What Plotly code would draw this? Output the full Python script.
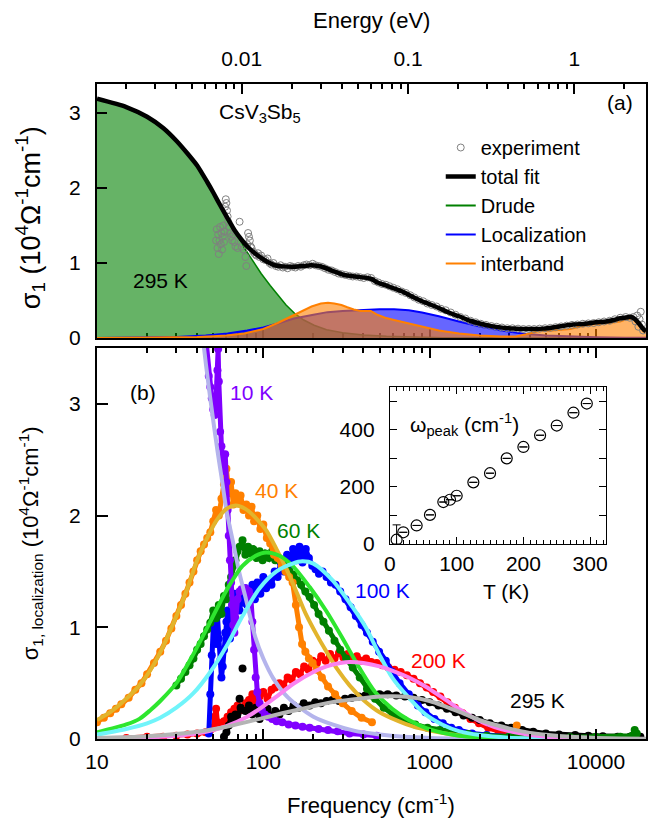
import plotly.graph_objects as go

# ---------------- panel (a): CsV3Sb5, 295 K  (x: cm^-1, y: 10^4 Ohm^-1 cm^-1) -------------
freq_exp_a = [52, 52.5, 53, 53.5, 54, 54.5, 55, 55.5, 56, 56.5, 57, 57.5, 58, 58.5, 59, 59.5, 60, 60.5,
              61, 61.5, 62, 63, 64, 65, 66, 67, 68, 70, 72, 74, 76, 78, 79, 80, 81, 82, 83, 84, 85, 87,
              89, 91, 93, 95, 97, 100, 103, 106, 109, 112, 115, 119, 123, 127, 131, 135, 140, 145, 150,
              156, 162, 168, 175, 182, 190, 198, 206, 215, 225, 235, 246, 258, 270, 283, 297, 312, 328,
              345, 363, 382, 402, 423, 445, 468, 492, 518, 545, 575, 605, 640, 680, 720, 765, 810, 860,
              915, 970, 1030, 1100, 1170, 1250, 1340, 1430, 1530, 1640, 1760, 1890, 2030, 2180, 2350,
              2530, 2720, 2930, 3150, 3400, 3660, 3950, 4250, 4580, 4940, 5320, 5730, 6180, 6660, 7180,
              7740, 8340, 8990, 9690, 10400, 11200, 12100, 13000, 14000, 15100, 16000, 16800, 17300,
              17700, 18000, 18300, 18600, 18900, 19200]
sig_exp_a = [1.30, 1.45, 1.20, 1.38, 1.12, 1.30, 1.48, 1.25, 1.40, 1.18, 1.35, 1.50, 1.28, 1.42, 1.75,
             1.85, 1.80, 1.70, 1.62, 1.55, 1.48, 1.40, 1.35, 1.30, 1.38, 1.28, 1.22, 1.20, 1.55, 1.22,
             1.18, 1.08, 0.96, 1.25, 1.40, 1.35, 1.30, 1.22, 1.20, 1.15, 1.12, 1.10, 1.13, 1.08, 1.10,
             1.05, 1.04, 1.06, 1.00, 0.98, 1.00, 0.96, 0.95, 0.97, 0.94, 0.95, 0.93, 0.96, 0.95, 0.94,
             0.96, 0.95, 0.97, 0.98, 0.97, 0.99, 0.97, 0.96, 0.95, 0.93, 0.91, 0.90, 0.88, 0.86, 0.85,
             0.84, 0.83, 0.82, 0.82, 0.81, 0.80, 0.81, 0.80, 0.76, 0.74, 0.72, 0.71, 0.69, 0.67, 0.65,
             0.62, 0.60, 0.57, 0.54, 0.51, 0.49, 0.46, 0.44, 0.42, 0.39, 0.37, 0.34, 0.31, 0.28, 0.26,
             0.23, 0.21, 0.19, 0.175, 0.16, 0.15, 0.14, 0.13, 0.13, 0.125, 0.12, 0.12, 0.12, 0.125,
             0.13, 0.135, 0.145, 0.155, 0.165, 0.175, 0.18, 0.19, 0.195, 0.20, 0.21, 0.22, 0.23, 0.25,
             0.27, 0.28, 0.27, 0.28, 0.22, 0.30, 0.15, 0.25, 0.35, 0.18, 0.10]

freq_total_a = [10, 15, 20, 25, 30, 35, 40, 46, 50, 56, 62, 67, 74, 81, 90, 97, 107, 117, 130, 154, 175,
                193, 215, 232, 265, 306, 360, 423, 450, 485, 550, 611, 700, 805, 900, 1000, 1136, 1300,
                1500, 1750, 2027, 2400, 2800, 3300, 3617, 4200, 4830, 5500, 6300, 7300, 8626, 10000,
                11500, 12800, 13740, 14800, 15800, 16330, 17000, 17700, 18500, 19450, 20000]
sig_total_a = [3.19, 3.08, 2.95, 2.80, 2.63, 2.46, 2.30, 2.08, 1.94, 1.74, 1.57, 1.44, 1.31, 1.21, 1.12,
               1.07, 1.01, 0.97, 0.955, 0.95, 0.96, 0.97, 0.96, 0.94, 0.89, 0.84, 0.82, 0.80, 0.785,
               0.74, 0.70, 0.66, 0.61, 0.54, 0.49, 0.45, 0.40, 0.34, 0.29, 0.23, 0.19, 0.155, 0.135,
               0.125, 0.12, 0.12, 0.125, 0.14, 0.16, 0.18, 0.19, 0.21, 0.22, 0.24, 0.26, 0.27, 0.28,
               0.28, 0.26, 0.22, 0.17, 0.11, 0.09]

freq_drude_a = [10, 12, 15, 20, 25, 30, 35, 40, 46, 52, 61, 70, 77, 87, 97, 110, 122, 137, 154, 175, 202,
                240, 300, 400, 550, 800, 1200, 2000, 5000, 20000]
sig_drude_a = [3.18, 3.14, 3.07, 2.94, 2.79, 2.62, 2.45, 2.28, 2.06, 1.86, 1.60, 1.38, 1.20, 1.02, 0.86,
               0.70, 0.57, 0.44, 0.33, 0.24, 0.17, 0.11, 0.07, 0.04, 0.022, 0.011, 0.005, 0.002, 0.0005,
               0.0]

freq_loc_a = [10, 20, 30, 45, 61, 80, 100, 125, 153, 200, 243, 300, 385, 500, 611, 750, 900, 1136, 1500,
              2027, 2700, 3600, 5000, 7000, 10000, 15000, 20000]
sig_loc_a = [0.0, 0.005, 0.015, 0.035, 0.06, 0.10, 0.14, 0.20, 0.26, 0.31, 0.345, 0.36, 0.375, 0.385,
             0.385, 0.37, 0.34, 0.29, 0.22, 0.15, 0.10, 0.06, 0.035, 0.02, 0.01, 0.004, 0.002]

freq_inter_a = [10, 20, 30, 40, 50, 60, 77, 100, 122, 145, 168, 195, 222, 245, 267, 295, 320, 350, 385,
                420, 443, 485, 540, 611, 700, 805, 950, 1136, 1500, 2000, 2700, 3300, 3800, 4500, 5500,
                7000, 8600, 10000, 12000, 14000, 15500, 16500, 17500, 18500, 19500, 20000]
sig_inter_a = [0.0, 0.003, 0.008, 0.015, 0.025, 0.035, 0.06, 0.12, 0.20, 0.28, 0.35, 0.42, 0.46, 0.47,
               0.46, 0.44, 0.41, 0.38, 0.36, 0.365, 0.36, 0.31, 0.27, 0.24, 0.21, 0.18, 0.14, 0.10,
               0.06, 0.035, 0.02, 0.02, 0.05, 0.09, 0.10, 0.12, 0.17, 0.19, 0.20, 0.22, 0.26, 0.26,
               0.22, 0.16, 0.10, 0.08]

# top energy axis
CM_PER_EV = 8065.54
energy_major = [0.01, 0.1, 1]
energy_major_text = ["0.01", "0.1", "1"]
energy_minor = [0.002, 0.003, 0.004, 0.005, 0.006, 0.007, 0.008, 0.009,
                0.02, 0.03, 0.04, 0.05, 0.06, 0.07, 0.08, 0.09,
                0.2, 0.3, 0.4, 0.5, 0.6, 0.7, 0.8, 0.9, 2]

# ---------------- panel (b): sigma_1, localization at several temperatures -------------
f10 = [45, 47, 48, 49, 50, 51, 52, 53, 53.5, 54, 55, 56, 57, 58, 59, 60, 61, 62, 63, 64, 65, 66, 67, 68,
       70, 72, 74, 76, 78, 80, 82, 84, 86, 88, 90, 92, 95, 98, 102, 107, 113, 120, 130, 142, 156, 172,
       190, 215, 245, 280, 330, 400, 480]
s10 = [3.6, 3.25, 3.15, 3.05, 2.95, 2.9, 3.05, 3.3, 3.49, 3.2, 2.75, 2.62, 2.5, 2.4, 2.55, 2.3, 2.05,
       1.82, 1.6, 1.4, 1.2, 1.02, 0.95, 1.08, 1.25, 1.32, 1.34, 1.33, 1.35, 1.3, 1.32, 1.28, 1.05, 0.8,
       0.55, 0.42, 0.32, 0.26, 0.22, 0.2, 0.18, 0.16, 0.15, 0.13, 0.12, 0.11, 0.1, 0.09, 0.08, 0.07,
       0.05, 0.04, 0.03]
f10_fit = [40, 44, 47, 50, 53, 56, 60, 66, 72, 79, 90, 100, 115, 135, 160, 200, 260, 350, 500, 700, 1000,
           2000]
s10_fit = [4.1, 3.5, 3.15, 2.85, 2.58, 2.35, 2.05, 1.75, 1.48, 1.24, 0.9, 0.72, 0.54, 0.40, 0.30, 0.20,
           0.13, 0.075, 0.04, 0.02, 0.01, 0.003]

f40 = [10, 11, 12, 13, 14, 15.5, 17, 18.5, 20, 22, 24, 26, 28, 30, 32, 34, 36, 38, 40, 42, 44, 46, 48, 50,
       52, 54, 56, 58, 60, 62, 64, 66, 68, 70, 73, 76, 79, 82, 85, 88, 92, 96, 100, 105, 110, 116, 122,
       129, 136, 143, 150, 157, 164, 171, 179, 188, 198, 210, 225, 245, 270, 300, 340, 390, 450]
s40 = [0.15, 0.19, 0.23, 0.27, 0.31, 0.37, 0.44, 0.5, 0.58, 0.68, 0.78, 0.88, 0.99, 1.1, 1.2, 1.3, 1.4,
       1.5, 1.6, 1.68, 1.74, 1.8, 1.85, 1.95, 2.05, 2.0, 2.15, 2.28, 2.42, 2.2, 2.3, 2.1, 2.2, 2.12, 2.18,
       2.05, 2.1, 2.0, 2.08, 1.95, 2.0, 1.88, 1.92, 1.8, 1.75, 1.65, 1.62, 1.55, 1.5, 1.45, 1.4, 1.2, 1.0,
       0.85, 0.78, 0.72, 0.68, 0.62, 0.55, 0.47, 0.4, 0.32, 0.25, 0.19, 0.15]
f40_stray = [3340]
s40_stray = [0.12]
f40_fit = [10, 12, 15, 18, 21, 25, 30, 35, 40, 46, 52, 60, 68, 78, 90, 104, 120, 140, 160, 180, 210, 238,
           280, 330, 400, 500, 650, 800, 1000, 1300, 1700, 2300, 3000, 5000]
s40_fit = [0.17, 0.24, 0.36, 0.48, 0.62, 0.83, 1.1, 1.35, 1.6, 1.8, 1.95, 2.06, 2.09, 2.06, 1.98, 1.87,
           1.7, 1.5, 1.3, 1.12, 0.93, 0.79, 0.62, 0.48, 0.35, 0.24, 0.16, 0.11, 0.075, 0.045, 0.025,
           0.012, 0.006, 0.002]

f60 = [30, 32, 34, 36, 38, 40, 42, 44, 46, 48, 50, 52, 54, 56, 58, 60, 62, 64, 66, 68, 70, 72, 75, 78, 81,
       84, 87, 91, 95, 99, 103, 108, 113, 118, 124, 130, 137, 144, 152, 160, 169, 179, 190, 202, 215, 230,
       248, 268, 290, 315, 345, 380, 420, 470, 530, 600, 700, 820, 970, 1150, 1400, 1700, 2200, 3000,
       4500, 7000, 10000, 14000, 16500, 17100, 17600]
s60 = [0.48, 0.54, 0.6, 0.66, 0.72, 0.8, 0.85, 0.92, 0.98, 1.04, 1.15, 1.08, 1.2, 1.12, 1.28, 1.25, 1.38,
       1.45, 1.55, 1.6, 1.68, 1.72, 1.78, 1.65, 1.72, 1.66, 1.7, 1.62, 1.68, 1.6, 1.66, 1.62, 1.68, 1.6,
       1.62, 1.56, 1.55, 1.5, 1.47, 1.42, 1.38, 1.32, 1.27, 1.2, 1.12, 1.05, 0.97, 0.88, 0.8, 0.72, 0.64,
       0.55, 0.45, 0.36, 0.28, 0.22, 0.17, 0.13, 0.1, 0.08, 0.06, 0.045, 0.03, 0.02, 0.015, 0.015, 0.02,
       0.02, 0.03, 0.08, 0.05]
f60_fit = [10, 12, 15, 18, 21, 24, 30, 38, 48, 60, 75, 90, 104, 125, 150, 190, 238, 300, 377, 470, 596,
           750, 944, 1200, 1500, 2000, 3000, 5000]
s60_fit = [0.06, 0.09, 0.13, 0.18, 0.26, 0.34, 0.5, 0.76, 1.05, 1.33, 1.55, 1.64, 1.67, 1.64, 1.55, 1.36,
           1.15, 0.9, 0.64, 0.42, 0.27, 0.17, 0.1, 0.055, 0.03, 0.015, 0.006, 0.002]

f100 = [47, 48, 49, 50, 51, 52, 53, 54, 55, 56, 57, 58, 59, 60, 61, 62, 63, 64, 65, 66, 67, 68, 70, 72, 74,
        76, 78, 80, 83, 86, 89, 92, 96, 100, 104, 108, 112, 117, 122, 127, 133, 139, 145, 151, 158, 165,
        172, 180, 188, 197, 206, 216, 227, 240, 255, 272, 290, 312, 335, 360, 390, 420, 455, 497, 545,
        596, 660, 750, 850, 944, 1070, 1200, 1350, 1500, 1800, 2200, 3000]
s100 = [0.05, 0.4, 0.75, 1.0, 1.12, 0.85, 1.1, 0.9, 0.7, 0.55, 0.65, 0.8, 0.95, 1.05, 1.15, 1.0, 0.9, 1.05,
        1.2, 1.0, 1.3, 1.2, 1.28, 1.15, 1.3, 1.22, 1.35, 1.2, 1.3, 1.38, 1.25, 1.4, 1.3, 1.45, 1.35, 1.42,
        1.38, 1.5, 1.45, 1.58, 1.5, 1.65, 1.55, 1.7, 1.6, 1.72, 1.58, 1.7, 1.62, 1.55, 1.52, 1.48, 1.5,
        1.45, 1.4, 1.38, 1.32, 1.25, 1.18, 1.1, 1.02, 0.95, 0.87, 0.78, 0.7, 0.6, 0.5, 0.4, 0.3, 0.24,
        0.18, 0.14, 0.1, 0.08, 0.05, 0.035, 0.02]
f100_fit = [10, 15, 20, 24, 30, 38, 48, 60, 75, 95, 120, 150, 172, 200, 261, 344, 413, 497, 596, 750, 944,
            1188, 1500, 2000, 3000, 5000]
s100_fit = [0.04, 0.09, 0.14, 0.19, 0.28, 0.41, 0.6, 0.83, 1.1, 1.35, 1.5, 1.57, 1.59, 1.57, 1.42, 1.18,
            1.0, 0.76, 0.55, 0.37, 0.22, 0.13, 0.07, 0.035, 0.012, 0.004]

f200 = [15, 20, 25, 30, 35, 40, 45, 48, 50, 51, 52, 53, 54, 56, 58, 61, 64, 67, 70, 74, 78, 82, 86, 90, 95,
        100, 106, 112, 118, 125, 132, 140, 148, 157, 166, 176, 187, 198, 210, 223, 237, 252, 268, 285,
        303, 322, 343, 365, 390, 415, 445, 480, 520, 565, 615, 670, 730, 800, 875, 960, 1050, 1160, 1280,
        1420, 1580, 1760, 1980, 2250, 2600, 3100, 3800, 5000, 7000]
s200 = [0.01, 0.02, 0.02, 0.03, 0.04, 0.05, 0.06, 0.08, 0.1, 0.2, 0.27, 0.15, 0.12, 0.14, 0.16, 0.2, 0.24,
        0.27, 0.3, 0.26, 0.32, 0.35, 0.4, 0.33, 0.38, 0.42, 0.36, 0.44, 0.46, 0.5, 0.48, 0.55, 0.53, 0.6,
        0.58, 0.65, 0.62, 0.7, 0.68, 0.74, 0.7, 0.76, 0.72, 0.77, 0.73, 0.76, 0.72, 0.74, 0.7, 0.72, 0.69,
        0.68, 0.66, 0.64, 0.62, 0.6, 0.57, 0.54, 0.5, 0.46, 0.42, 0.38, 0.33, 0.28, 0.23, 0.18, 0.14, 0.1,
        0.07, 0.045, 0.03, 0.02, 0.01]
f200_fit = [10, 20, 30, 40, 50, 60, 80, 95, 120, 150, 200, 240, 290, 330, 400, 500, 600, 750, 944, 1250,
            1500, 2000, 3000, 5000, 8000]
s200_fit = [0.005, 0.015, 0.03, 0.05, 0.08, 0.115, 0.2, 0.27, 0.38, 0.49, 0.6, 0.65, 0.68, 0.69, 0.68,
            0.65, 0.61, 0.55, 0.47, 0.35, 0.27, 0.16, 0.07, 0.02, 0.006]

f295 = [58, 60, 62, 64, 66, 68, 70, 73, 78, 82, 86, 90, 95, 100, 106, 112, 118, 125, 133, 142, 152, 163,
        175, 190, 205, 222, 240, 260, 285, 310, 340, 375, 410, 450, 500, 560, 630, 710, 800, 900, 1000,
        1130, 1270, 1430, 1600, 1800, 2000, 2300, 2700, 3100, 3600, 4200, 5000, 6000, 7500, 9000, 11000,
        13500, 16000, 18500]
s295 = [0.02, 0.06, 0.12, 0.2, 0.15, 0.22, 0.17, 0.28, 0.25, 0.3, 0.22, 0.28, 0.18, 0.22, 0.27, 0.2, 0.25,
        0.22, 0.28, 0.25, 0.3, 0.28, 0.32, 0.3, 0.33, 0.32, 0.34, 0.35, 0.34, 0.36, 0.37, 0.38, 0.39, 0.39,
        0.40, 0.40, 0.39, 0.38, 0.37, 0.35, 0.33, 0.3, 0.27, 0.24, 0.21, 0.19, 0.17, 0.14, 0.12, 0.1, 0.08,
        0.065, 0.05, 0.04, 0.035, 0.03, 0.025, 0.02, 0.02, 0.02]
f295_stray = [72, 75]
s295_stray = [0.36, 0.63]
f295_fit = [10, 20, 38, 60, 95, 130, 189, 260, 377, 500, 600, 750, 1000, 1250, 1500, 2000, 2500, 3120,
            4000, 5000, 7000, 10000, 14000, 20000]
s295_fit = [0.008, 0.025, 0.06, 0.11, 0.18, 0.23, 0.285, 0.33, 0.36, 0.38, 0.382, 0.375, 0.34, 0.29,
            0.245, 0.17, 0.125, 0.088, 0.055, 0.038, 0.02, 0.01, 0.005, 0.002]

freq_ticks = [10, 100, 1000, 10000]
freq_tick_text = ["10", "100", "1000", "10000"]
freq_minor = [k * d for d in (10, 100, 1000) for k in range(2, 10)]

# ---------------- inset: peak position vs temperature -------------
T_K = [10, 20, 40, 60, 80, 90, 100, 125, 150, 175, 200, 225, 250, 275, 295]
w_peak = [15, 41, 65, 102, 147, 155, 169, 216, 248, 300, 340, 381, 415, 460, 492]
w_err_plus = [52, 0, 0, 0, 0, 0, 0, 0, 0, 0, 0, 0, 0, 0, 0]
w_err_minus = [15, 0, 0, 0, 0, 0, 0, 0, 0, 0, 0, 0, 0, 0, 0]

# ---------------- figure geometry -------------
W, H = 657, 819
L, R, T, B = 97, 9, 84, 80
PW, PH = W - L - R, H - T - B


def px(xp):
    return (xp - L) / PW


def py(yp):
    return (H - B - yp) / PH


FONT = "Arial, 'Liberation Sans', Helvetica, sans-serif"
fig = go.Figure()

# ---- panel (a)
fig.add_trace(go.Scatter(x=freq_drude_a, y=sig_drude_a, mode="lines", fill="tozeroy",
                         fillcolor="rgba(0,128,0,0.6)", line=dict(color="#008000", width=1.5),
                         xaxis="x", yaxis="y", showlegend=False))
fig.add_trace(go.Scatter(x=freq_loc_a, y=sig_loc_a, mode="lines", fill="tozeroy",
                         fillcolor="rgba(0,0,255,0.6)", line=dict(color="#0000ff", width=2),
                         xaxis="x", yaxis="y", showlegend=False))
fig.add_trace(go.Scatter(x=freq_inter_a, y=sig_inter_a, mode="lines", fill="tozeroy",
                         fillcolor="rgba(255,128,0,0.6)", line=dict(color="#ff8000", width=2),
                         xaxis="x", yaxis="y", showlegend=False))
fig.add_trace(go.Scatter(x=freq_exp_a, y=sig_exp_a, mode="markers", name="experiment",
                         marker=dict(symbol="circle-open", size=7, color="#808080", line=dict(width=1)),
                         xaxis="x", yaxis="y"))
fig.add_trace(go.Scatter(x=freq_total_a, y=sig_total_a, mode="lines", name="total fit",
                         line=dict(color="black", width=4.5, shape="spline", smoothing=0.6),
                         xaxis="x", yaxis="y"))
for nm, col in [("Drude", "#008000"), ("Localization", "#0000ff"), ("interband", "#ff8000")]:
    fig.add_trace(go.Scatter(x=[None], y=[None], mode="lines", name=nm,
                             line=dict(color=col, width=2), xaxis="x", yaxis="y"))
# dummy trace to activate the energy axis
fig.add_trace(go.Scatter(x=[0.1], y=[None], mode="lines", xaxis="x3", yaxis="y",
                         showlegend=False, hoverinfo="skip"))

# ---- panel (b) data
data_sets = [
    (f200, s200, "#ff0000"),
    (f295, s295, "#000000"),
    (f100, s100, "#0000ff"),
    (f60, s60, "#008000"),
    (f40, s40, "#ff8000"),
    (f10, s10, "#8000ff"),
]
for fx, sy, col in data_sets:
    fig.add_trace(go.Scatter(x=fx, y=sy, mode="lines+markers", line=dict(color=col, width=5),
                             marker=dict(color=col, size=8), xaxis="x2", yaxis="y2", showlegend=False))
for fx, sy, col in [(f40_stray, s40_stray, "#ff8000"), (f295_stray, s295_stray, "#000000")]:
    fig.add_trace(go.Scatter(x=fx, y=sy, mode="markers", marker=dict(color=col, size=8),
                             xaxis="x2", yaxis="y2", showlegend=False))
fit_sets = [
    (f10_fit, s10_fit, "#b4b4ec"),
    (f40_fit, s40_fit, "#e2b42c"),
    (f60_fit, s60_fit, "#2ee62e"),
    (f100_fit, s100_fit, "#70f4fa"),
    (f200_fit, s200_fit, "#fa82f0"),
    (f295_fit, s295_fit, "#b4b4b4"),
]
for fx, sy, col in fit_sets:
    fig.add_trace(go.Scatter(x=fx, y=sy, mode="lines", line=dict(color=col, width=4, shape="spline",
                                                                   smoothing=0.8),
                             xaxis="x2", yaxis="y2", showlegend=False))

# ---- inset
fig.add_trace(go.Scatter(x=T_K, y=w_peak, mode="markers",
                         marker=dict(symbol="circle-open", size=11, color="black", line=dict(width=1.2)),
                         error_y=dict(type="data", symmetric=False, array=w_err_plus,
                                      arrayminus=w_err_minus, color="black", thickness=1, width=4),
                         xaxis="x4", yaxis="y4", showlegend=False))

axis_common = dict(showgrid=False, zeroline=False, showline=True, linecolor="black", linewidth=2,
                   ticks="inside", tickcolor="black", tickwidth=1.5,
                   tickfont=dict(family=FONT, size=21, color="black"))

fig.update_layout(
    width=W, height=H, autosize=False,
    margin=dict(l=L, r=R, t=T, b=B, pad=0),
    paper_bgcolor="white", plot_bgcolor="white",
    font=dict(family=FONT, size=21, color="black"),
    showlegend=True,
    legend=dict(x=px(442), y=py(128), xanchor="left", yanchor="top", bgcolor="rgba(0,0,0,0)",
                font=dict(family=FONT, size=20), tracegroupgap=0, traceorder="normal"),
    xaxis=dict(axis_common, type="log", range=[1, 4.30103], domain=[0, 1], anchor="y",
               showticklabels=False, mirror=True, ticklen=9, tickvals=freq_ticks, layer="below traces",
               minor=dict(ticks="inside", ticklen=5, tickvals=freq_minor, tickcolor="black")),
    yaxis=dict(axis_common, range=[0, 3.387], domain=[py(338), 1], anchor="x", tickvals=[0, 1, 2, 3],
               ticklen=10, mirror=True, ticklabelstandoff=10),
    xaxis3=dict(axis_common, type="log", overlaying="x", anchor="y", side="top",
                range=[-2.9066 + 0.036, 0.3944 + 0.036], tickvals=energy_major, ticktext=energy_major_text,
                ticklen=10, ticklabelstandoff=8,
                minor=dict(ticks="inside", ticklen=5, tickvals=energy_minor, tickcolor="black")),
    xaxis2=dict(axis_common, type="log", range=[1, 4.30103], domain=[0, 1], anchor="y2",
                tickvals=freq_ticks, ticktext=freq_tick_text, ticklen=10, mirror="ticks",
                ticklabelstandoff=3,
                minor=dict(ticks="inside", ticklen=5, tickvals=freq_minor, tickcolor="black")),
    yaxis2=dict(axis_common, range=[0, 3.5], domain=[0, py(348)], anchor="x2", tickvals=[0, 1, 2, 3],
                ticklen=11, mirror=True, ticklabelstandoff=10),
    xaxis4=dict(axis_common, range=[0, 324], domain=[px(391), px(608)], anchor="y4",
                tickvals=[0, 100, 200, 300], ticklen=7, linewidth=1.2, tickwidth=1, mirror="ticks",
                ticklabelstandoff=1,
                minor=dict(ticks="inside", ticklen=4, dtick=10, tickcolor="black")),
    yaxis4=dict(axis_common, range=[0, 550], domain=[py(544), py(387)], anchor="x4",
                tickvals=[0, 200, 400], ticklen=7, linewidth=1.2, tickwidth=1, mirror="ticks",
                ticklabelstandoff=10,
                minor=dict(ticks="inside", ticklen=7, dtick=100, tickcolor="black")),
)


def ann(text, xp, yp, size=21, color="black", xanchor="center", angle=0):
    fig.add_annotation(text=text, x=px(xp), y=py(yp), xref="paper", yref="paper", showarrow=False,
                       xanchor=xanchor, yanchor="middle", textangle=angle,
                       font=dict(family=FONT, size=size, color=color))


ann("Energy (eV)", 372, 20, size=22)
ann("Frequency (cm<sup>-1</sup>)", 372, 804, size=22)
ann("σ<sub>1</sub> (10<sup>4</sup>Ω<sup>-1</sup>cm<sup>-1</sup>)", 30, 218, size=27, angle=-90)
ann("σ<sub>1, localization</sub> (10<sup>4</sup>Ω<sup>-1</sup>cm<sup>-1</sup>)", 30, 543, size=22, angle=-90)
ann("CsV<sub>3</sub>Sb<sub>5</sub>", 261, 113)
ann("(a)", 622, 103)
ann("295 K", 161, 280)
ann("(b)", 143, 392)
ann("10 K", 252, 392, color="#8000ff")
ann("40 K", 277, 490, color="#ff8000")
ann("60 K", 299, 530, color="#008000")
ann("100 K", 384, 590, color="#0000ff")
ann("200 K", 440, 660, color="#ff0000")
ann("295 K", 539, 700)
ann("ω<sub>peak</sub> (cm<sup>-1</sup>)", 409, 424, xanchor="left")
ann("T (K)", 507, 591)

fig.write_html("out.html", config={"displayModeBar": False},
               post_script="document.body.style.margin='0px';")
